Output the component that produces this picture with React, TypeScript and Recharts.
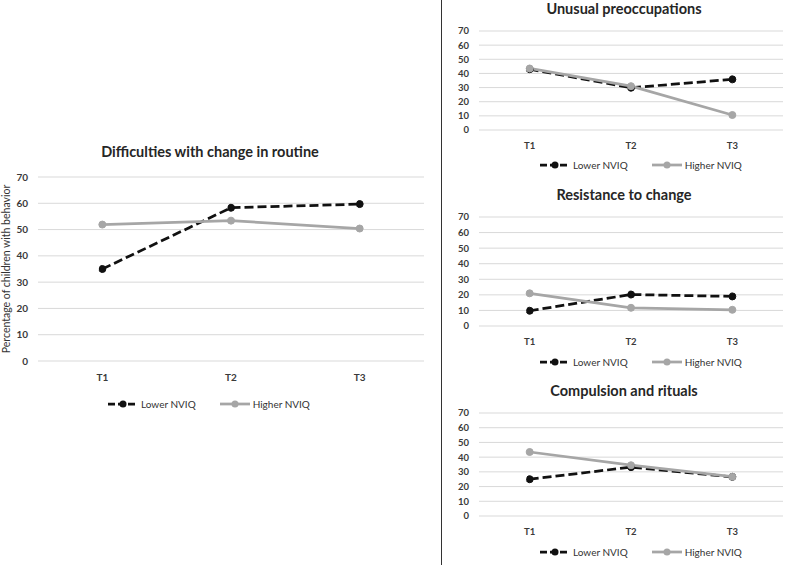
import React from 'react'
import { LineChart, Line, XAxis, YAxis, CartesianGrid } from 'recharts'

const times = ['T1', 'T2', 'T3']
const yTicks = [0, 10, 20, 30, 40, 50, 60, 70]

const routineLower = [35, 58.3, 59.7]
const routineHigher = [51.9, 53.4, 50.4]
const preoccLower = [43, 29.9, 35.8]
const preoccHigher = [43.5, 31, 10.6]
const resistLower = [9.8, 20.2, 19]
const resistHigher = [21, 11.7, 10.4]
const compulsLower = [25, 33.2, 26.6]
const compulsHigher = [43.5, 34.5, 26.7]

const seriesNames = ['Lower NVIQ', 'Higher NVIQ']
const lowerColor = '#111111'
const higherColor = '#a6a6a6'
const font = 'Lato, "Noto Sans", sans-serif'

const buildRows = (lower: number[], higher: number[]) =>
  times.map((t, i) => ({ time: t, lower: lower[i], higher: higher[i] }))

interface PanelProps {
  lower: number[]
  higher: number[]
  left: number
  top: number
  width: number
  height: number
  margin: { top: number; right: number; bottom: number; left: number }
  tickFont: number
  xTickMargin: number
  yLabel?: string
}

// x axis keeps its default 30px height, so margin.bottom is what's left below it
const Panel: React.FC<PanelProps> = ({
  lower,
  higher,
  left,
  top,
  width,
  height,
  margin,
  tickFont,
  xTickMargin,
  yLabel,
}) => {
  const rows = buildRows(lower, higher)
  const tick = { fontSize: tickFont, fill: '#3a3a3a', fontFamily: font, fontWeight: 700 }
  return (
    <div style={{ position: 'absolute', left, top }}>
      <LineChart width={width} height={height} data={rows} margin={margin}>
        <CartesianGrid vertical={false} stroke="#d9d9d9" strokeWidth={1} />
        <XAxis
          dataKey="time"
          scale="band"
          height={30}
          axisLine={false}
          tickLine={false}
          tick={tick}
          tickMargin={xTickMargin}
          interval={0}
        />
        <YAxis
          width={38}
          domain={[0, 70]}
          ticks={yTicks}
          axisLine={false}
          tickLine={false}
          tick={tick}
          tickMargin={4}
          interval={0}
          label={
            yLabel
              ? {
                  value: yLabel,
                  angle: -90,
                  position: 'insideLeft',
                  offset: 6,
                  style: { fontSize: 10.5, fill: '#333', fontFamily: font, textAnchor: 'middle' },
                }
              : undefined
          }
        />
        <Line
          dataKey="lower"
          name={seriesNames[0]}
          stroke={lowerColor}
          strokeWidth={2.75}
          strokeDasharray="9 4"
          dot={{ r: 3.5, fill: lowerColor, stroke: lowerColor, strokeWidth: 1 }}
          isAnimationActive={false}
        />
        <Line
          dataKey="higher"
          name={seriesNames[1]}
          stroke={higherColor}
          strokeWidth={2.75}
          dot={{ r: 3.5, fill: higherColor, stroke: higherColor, strokeWidth: 1 }}
          isAnimationActive={false}
        />
      </LineChart>
    </div>
  )
}

const Title: React.FC<{ text: string; cx: number; cy: number }> = ({ text, cx, cy }) => (
  <div
    style={{
      position: 'absolute',
      left: cx - 170,
      top: cy - 10,
      width: 340,
      height: 20,
      lineHeight: '20px',
      textAlign: 'center',
      fontFamily: font,
      fontWeight: 700,
      fontSize: 14.5,
      color: '#262626',
      whiteSpace: 'nowrap',
    }}
  >
    {text}
  </div>
)

const LegendRow: React.FC<{ x: number; cy: number }> = ({ x, cy }) => (
  <div
    style={{
      position: 'absolute',
      left: x,
      top: cy - 8,
      height: 16,
      display: 'flex',
      alignItems: 'center',
      fontFamily: font,
      fontSize: 10,
      color: '#333',
      whiteSpace: 'nowrap',
    }}
  >
    {seriesNames.map((name, i) => (
      <div key={name} style={{ display: 'flex', alignItems: 'center', marginRight: i === 0 ? 24 : 0 }}>
        <svg width={30} height={10} style={{ marginRight: 3 }}>
          <line
            x1={0}
            y1={5}
            x2={30}
            y2={5}
            stroke={i === 0 ? lowerColor : higherColor}
            strokeWidth={2.75}
            strokeDasharray={i === 0 ? '7 3' : undefined}
          />
          <circle cx={15} cy={5} r={3.5} fill={i === 0 ? lowerColor : higherColor} />
        </svg>
        <span>{name}</span>
      </div>
    ))}
  </div>
)

export default function App() {
  return (
    <div
      style={{
        position: 'absolute',
        left: 0,
        top: 0,
        width: 787,
        height: 565,
        background: '#fff',
        overflow: 'hidden',
      }}
    >
      {/* left: big panel */}
      <Title text="Difficulties with change in routine" cx={210} cy={152} />
      <Panel
        lower={routineLower}
        higher={routineHigher}
        left={0}
        top={0}
        width={440}
        height={400}
        margin={{ top: 177, right: 16, bottom: 9, left: 0 }}
        tickFont={10}
        xTickMargin={7}
        yLabel="Percentage of children with behavior"
      />
      <LegendRow x={108} cy={404} />

      {/* divider */}
      <div style={{ position: 'absolute', left: 441, top: 0, width: 1, height: 565, background: '#333' }} />

      {/* right: three small panels */}
      <Title text="Unusual preoccupations" cx={624} cy={9} />
      <Panel
        lower={preoccLower}
        higher={preoccHigher}
        left={441}
        top={0}
        width={346}
        height={190}
        margin={{ top: 31, right: 4, bottom: 30, left: 0 }}
        tickFont={9.5}
        xTickMargin={6}
      />
      <LegendRow x={540} cy={165} />

      <Title text="Resistance to change" cx={624} cy={195} />
      <Panel
        lower={resistLower}
        higher={resistHigher}
        left={441}
        top={185}
        width={346}
        height={185}
        margin={{ top: 32, right: 4, bottom: 14, left: 0 }}
        tickFont={9.5}
        xTickMargin={6}
      />
      <LegendRow x={540} cy={362} />

      <Title text="Compulsion and rituals" cx={624} cy={391} />
      <Panel
        lower={compulsLower}
        higher={compulsHigher}
        left={441}
        top={375}
        width={346}
        height={190}
        margin={{ top: 38, right: 4, bottom: 19, left: 0 }}
        tickFont={9.5}
        xTickMargin={6}
      />
      <LegendRow x={540} cy={552} />
    </div>
  )
}
